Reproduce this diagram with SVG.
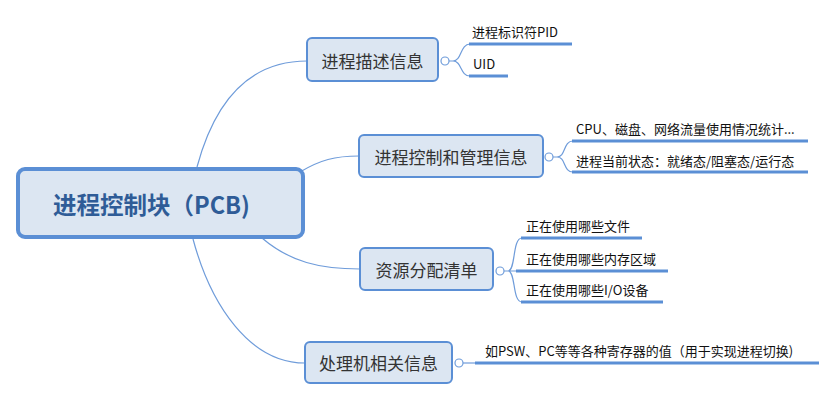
<svg xmlns="http://www.w3.org/2000/svg" width="837" height="400" viewBox="0 0 837 400">
<style>
.node rect{fill:#dce6f2;stroke:#5b8fd5;stroke-width:2}
.lbl{font-family:"Microsoft YaHei","Noto Sans CJK SC",sans-serif;font-size:17px;fill:#333;text-anchor:middle;dominant-baseline:central}
.leaf{font-family:"Microsoft YaHei","Noto Sans CJK SC",sans-serif;font-size:13px;fill:#111;dominant-baseline:central}
.conn{fill:none;stroke:#6f9cda;stroke-width:1.2}
.bar{stroke:#5b8fd5;stroke-width:3;fill:none}
.fold{fill:#fff;stroke:#6f9cda;stroke-width:1.2}
</style>
<rect width="837" height="400" fill="#fff"/>
<g id="connectors">
<path class="conn" d="M197,167 C215,100 250,61 307,61"/>
<path class="conn" d="M300,172 C320,160 335,156 359,156"/>
<path class="conn" d="M262,238 C290,262 320,269 360,269"/>
<path class="conn" d="M193,239 C211,306 250,363 305,363"/>
<path class="conn" d="M449,61 L453,61 C462,61 460,44 470,44 M453,61 C462,61 460,76 470,76"/>
<line class="bar" x1="469" y1="44" x2="572" y2="44"/>
<line class="bar" x1="469" y1="76" x2="508" y2="76"/>
<path class="conn" d="M553,157 L557,157 C566,157 563,141 573,141 M557,157 C566,157 563,172 573,172"/>
<line class="bar" x1="572" y1="141" x2="808" y2="141"/>
<line class="bar" x1="572" y1="172" x2="808" y2="172"/>
<path class="conn" d="M504,271 L508,271 C516,271 512,238 522,238 M508,271 C516,271 512,302 522,302 M508,271 L516,271"/>
<line class="bar" x1="516" y1="271" x2="668" y2="271"/>
<line class="bar" x1="521" y1="238" x2="642" y2="238"/>
<line class="bar" x1="521" y1="302" x2="663" y2="302"/>
<path class="conn" d="M463,363 L476,363"/>
<line class="bar" x1="475" y1="363" x2="819" y2="363"/>
</g>
<g id="pcb" class="node">
<rect x="18" y="169" width="285" height="68" rx="7" style="stroke-width:4"/>
<text x="53" y="204" style="font-family:'Microsoft YaHei','Noto Sans CJK SC',sans-serif;font-size:23.5px;font-weight:bold;fill:#2f5c97;dominant-baseline:central">进程控制块（PCB)</text>
</g>
<g id="n1" class="node">
<rect x="307" y="38" width="131" height="43" rx="5"/>
<text class="lbl" x="372.5" y="60">进程描述信息</text>
<circle class="fold" cx="445" cy="61" r="4"/>
<text class="leaf" x="472" y="31">进程标识符PID</text>
<text class="leaf" x="473" y="63">UID</text>
</g>
<g id="n2" class="node">
<rect x="359" y="135" width="184" height="42" rx="5"/>
<text class="lbl" x="451" y="156">进程控制和管理信息</text>
<circle class="fold" cx="549" cy="157" r="4"/>
<text class="leaf" x="576" y="128">CPU、磁盘、网络流量使用情况统计...</text>
<text class="leaf" x="576" y="160">进程当前状态：就绪态/阻塞态/运行态</text>
</g>
<g id="n3" class="node">
<rect x="360" y="248" width="133" height="42" rx="5"/>
<text class="lbl" x="426.5" y="269">资源分配清单</text>
<circle class="fold" cx="500" cy="271" r="4"/>
<text class="leaf" x="526" y="225">正在使用哪些文件</text>
<text class="leaf" x="526" y="258">正在使用哪些内存区域</text>
<text class="leaf" x="526" y="289">正在使用哪些I/O设备</text>
</g>
<g id="n4" class="node">
<rect x="305" y="342" width="147" height="41" rx="5"/>
<text class="lbl" x="378.5" y="362.5">处理机相关信息</text>
<circle class="fold" cx="459" cy="363" r="4"/>
<text class="leaf" x="485" y="350">如PSW、PC等等各种寄存器的值（用于实现进程切换)</text>
</g>
</svg>
